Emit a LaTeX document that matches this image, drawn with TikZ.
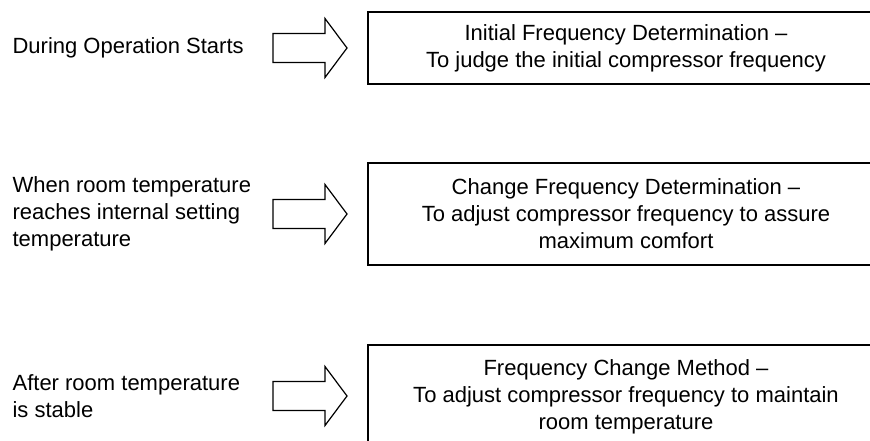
\documentclass[tikz,border=0pt]{standalone}
\usepackage{fontspec}
\setmainfont{Liberation Sans}
\begin{document}
\begin{tikzpicture}[x = 1pt, y = -1pt, line width = 1.2pt,
  font = \fontsize{22}{27}\selectfont,
  box/.style = {draw, minimum width = 516pt, align = center, inner sep = 0pt},
  cond/.style = {anchor = west, align = left, inner sep = 0pt}]
\useasboundingbox (0,0) rectangle (870,441);
\clip (0,0) rectangle (870,441);
\node (C1) [cond] at (12,48) {During Operation Starts};
\node (C2) [cond] at (12,214) {When room temperature\\reaches internal setting\\temperature};
\node (C3) [cond] at (12,396) {After room temperature\\is stable};
\node (B1) [box, minimum height = 72pt] at (626,48) {Initial Frequency Determination --\\To judge the initial compressor frequency};
\node (B2) [box, minimum height = 102pt] at (626,214) {Change Frequency Determination --\\To adjust compressor frequency to assure\\maximum comfort};
\node (B3) [box, minimum height = 104pt] at (626,397) {Frequency Change Method --\\To adjust compressor frequency to maintain\\room temperature};
\foreach \y in {48, 214, 396}
  \draw (273,\y-14.5) -- (325,\y-14.5) -- (325,\y-29.5) -- (347,\y)
    -- (325,\y+29.5) -- (325,\y+14.5) -- (273,\y+14.5) -- cycle;
\end{tikzpicture}
\end{document}
